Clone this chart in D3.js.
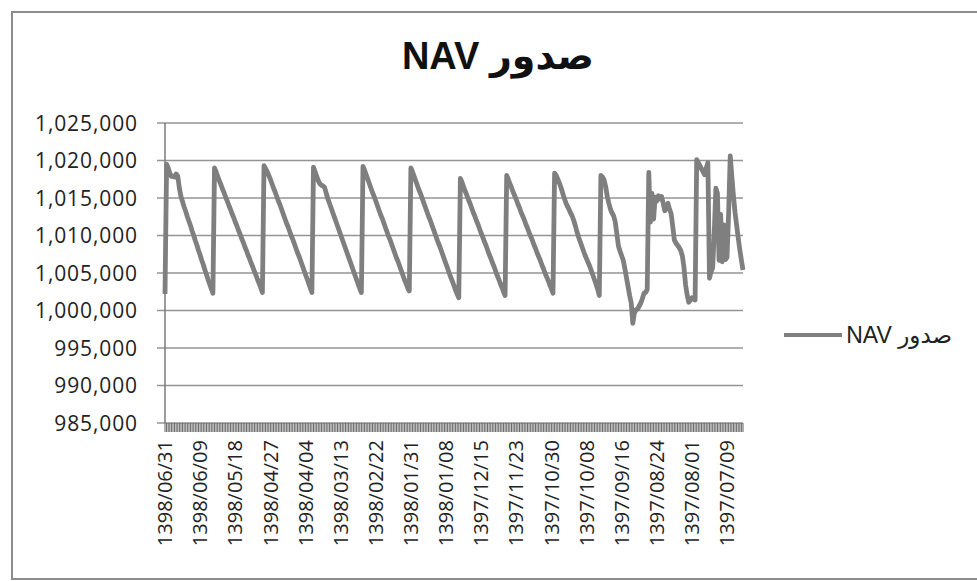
<!DOCTYPE html>
<html>
<head>
<meta charset="utf-8">
<script src="https://cdn.jsdelivr.net/npm/d3@7"></script>
<style>
  html, body { margin: 0; padding: 0; background: #fff; }
  svg { display: block; }
</style>
</head>
<body>
<div id="chart"></div>
<script>
// #region Data (latest day first as in the original)
const seriesName = 'صدور NAV';
const chartTitle = 'صدور NAV';

const navValues = [
  1002200, 1019500, 1019000, 1018300, 1017900, 1017900, 1017800, 1018200, 1017900, 1016300,
  1015200, 1014500, 1013800, 1013200, 1012500, 1011900, 1011300, 1010600, 1010000, 1009300,
  1008700, 1008000, 1007400, 1006700, 1006100, 1005400, 1004800, 1004100, 1003500, 1002900,
  1002300,
  1019000, 1018500, 1017900, 1017300, 1016800, 1016200, 1015700, 1015100, 1014600, 1014000,
  1013500, 1012900, 1012400, 1011800, 1011300, 1010700, 1010200, 1009600, 1009100, 1008500,
  1008000, 1007400, 1006900, 1006300, 1005800, 1005200, 1004700, 1004100, 1003600, 1003000,
  1002400,
  1019300, 1018900, 1018500, 1018000, 1017500, 1016900, 1016300, 1015800, 1015200, 1014600,
  1014100, 1013500, 1012900, 1012300, 1011700, 1011200, 1010600, 1010000, 1009500, 1008900,
  1008300, 1007700, 1007200, 1006600, 1006000, 1005400, 1004800, 1004200, 1003600, 1003000,
  1002400,
  1019100, 1018500, 1017900, 1017300, 1016900, 1016700, 1016600, 1016400, 1015600, 1014900,
  1014300, 1013700, 1013100, 1012500, 1011900, 1011300, 1010700, 1010100, 1009500, 1008900,
  1008300, 1007700, 1007100, 1006500, 1005900, 1005300, 1004700, 1004100, 1003500, 1002900,
  1002400,
  1019200, 1018700, 1018100, 1017500, 1016900, 1016300, 1015700, 1015200, 1014600, 1014000,
  1013400, 1012800, 1012300, 1011700, 1011100, 1010500, 1009900, 1009400, 1008800, 1008200,
  1007600, 1007000, 1006500, 1005900, 1005300, 1004700, 1004100, 1003600, 1003000, 1002600,
  1019000, 1018500, 1017900, 1017300, 1016700, 1016100, 1015600, 1015000, 1014400, 1013800,
  1013200, 1012600, 1012100, 1011500, 1010900, 1010300, 1009700, 1009100, 1008600, 1008000,
  1007400, 1006800, 1006200, 1005600, 1005000, 1004400, 1003900, 1003300, 1002700, 1002200,
  1001700,
  1017600, 1017100, 1016500, 1015900, 1015400, 1014800, 1014300, 1013700, 1013100, 1012600,
  1012000, 1011500, 1010900, 1010300, 1009800, 1009200, 1008700, 1008100, 1007500, 1007000,
  1006400, 1005900, 1005300, 1004700, 1004200, 1003600, 1003100, 1002500, 1002000,
  1018000, 1017500, 1016900, 1016400, 1015800, 1015300, 1014800, 1014200, 1013700, 1013100,
  1012600, 1012100, 1011500, 1011000, 1010400, 1009900, 1009400, 1008800, 1008300, 1007700,
  1007200, 1006700, 1006100, 1005600, 1005000, 1004500, 1004000, 1003400, 1002900, 1002300,
  1018300, 1018000, 1017500, 1017000, 1016400, 1015700, 1015000, 1014400, 1013900, 1013500,
  1013000, 1012600, 1012000, 1011300, 1010500, 1009800, 1009200, 1008600, 1008000, 1007400,
  1006900, 1006400, 1005900, 1005300, 1004700, 1004100, 1003500, 1002800, 1002000,
  1018000, 1017800, 1017400, 1016500, 1015200, 1014300, 1013500, 1013000, 1012600, 1011800,
  1010200, 1008600, 1007900, 1007300, 1006700, 1005600, 1004400, 1003200, 1002000, 1001000,
  998300, 999700, 1000100, 1000200, 1000600, 1001000, 1001600, 1002300, 1002400, 1002800,
  1018400, 1011800, 1015600, 1012200, 1015100, 1014600, 1015300, 1014900, 1015200, 1014300,
  1013300, 1013600, 1014300, 1013500, 1012900, 1011200, 1009400, 1009000, 1008700, 1008400,
  1008000, 1007300, 1005800, 1003500, 1002100, 1001100, 1001400, 1001700, 1001500, 1001400,
  1020100, 1019700, 1019300, 1018900, 1018500, 1018100, 1019000, 1019700, 1004300, 1005200,
  1005700, 1010400, 1016300, 1015600, 1006700, 1012800, 1006500, 1011400, 1006800, 1007100,
  1013000, 1020600, 1017900, 1015300, 1013100, 1011400, 1009700, 1008100, 1006700, 1005400,
];

// one label is shown for every 22nd day
const dateLabels = [
  '1398/06/31', '1398/06/09', '1398/05/18', '1398/04/27', '1398/04/04', '1398/03/13',
  '1398/02/22', '1398/01/31', '1398/01/08', '1397/12/15', '1397/11/23', '1397/10/30',
  '1397/10/08', '1397/09/16', '1397/08/24', '1397/08/01', '1397/07/09',
];
const labelEvery = 22;

const yTicks = [985000, 990000, 995000, 1000000, 1005000, 1010000, 1015000, 1020000, 1025000];
// #endregion

// #region SVG setup
const width = 977;
const height = 581;
const plot = { left: 165, right: 743, top: 123, bottom: 423 };
const textFont = '"Open Sans", "DejaVu Sans", sans-serif';
const titleFont = '"Liberation Sans", "DejaVu Sans", sans-serif';
const lineColor = '#7f7f7f';

const chart = d3
  .select('#chart')
  .append('svg')
  .attr('width', width)
  .attr('height', height);

chart
  .append('rect')
  .attr('x', 12)
  .attr('y', 12)
  .attr('width', 980)
  .attr('height', 567)
  .attr('fill', '#fff')
  .attr('stroke', '#8c8c8c')
  .attr('stroke-width', 2);
// #endregion

// #region Scales
const days = d3.range(navValues.length);
const x = d3.scalePoint().domain(days).range([plot.left, plot.right]);
const y = d3.scaleLinear().domain([985000, 1025000]).range([plot.bottom, plot.top]);
// #endregion

// #region Grid and axes
const grid = chart.append('g');
grid
  .selectAll('line')
  .data(yTicks)
  .enter()
  .append('line')
  .attr('x1', plot.left - 8)
  .attr('x2', plot.right)
  .attr('y1', d => y(d))
  .attr('y2', d => y(d))
  .attr('stroke', '#949494')
  .attr('stroke-width', 1.3);

grid
  .selectAll('text')
  .data(yTicks)
  .enter()
  .append('text')
  .text(d => d3.format(',')(d))
  .attr('x', plot.left - 27)
  .attr('y', d => y(d))
  .attr('dy', '0.36em')
  .attr('text-anchor', 'end')
  .style('font-family', textFont)
  .style('font-size', '21px')
  .style('letter-spacing', '0.9px')
  .style('fill', '#222');

chart
  .append('line')
  .attr('x1', plot.left)
  .attr('x2', plot.left)
  .attr('y1', plot.top)
  .attr('y2', plot.bottom)
  .attr('stroke', '#7a7a7a')
  .attr('stroke-width', 1.5);

// a tick for every day, which turns into a grey band
const dayTicks = chart.append('g');
dayTicks
  .selectAll('line')
  .data(days)
  .enter()
  .append('line')
  .attr('x1', d => x(d))
  .attr('x2', d => x(d))
  .attr('y1', plot.bottom)
  .attr('y2', plot.bottom + 9)
  .attr('stroke', '#6e6e6e')
  .attr('stroke-width', 1.1);

const labels = chart.append('g');
labels
  .selectAll('text')
  .data(dateLabels)
  .enter()
  .append('text')
  .text(d => d)
  .attr('text-anchor', 'end')
  .attr('dy', '0.36em')
  .attr('transform', (d, i) => `translate(${x(i * labelEvery)}, ${plot.bottom + 17}) rotate(-90)`)
  .style('font-family', textFont)
  .style('font-size', '20px')
  .style('fill', '#222');
// #endregion

// #region NAV line
const navLine = d3
  .line()
  .x((d, i) => x(i))
  .y(d => y(d));

chart
  .append('path')
  .datum(navValues)
  .attr('d', navLine)
  .attr('fill', 'none')
  .attr('stroke', lineColor)
  .attr('stroke-width', 4.8)
  .attr('stroke-linejoin', 'round');
// #endregion

// #region Title and legend
chart
  .append('text')
  .text(chartTitle)
  .attr('x', 498)
  .attr('y', 69)
  .attr('direction', 'rtl')
  .attr('text-anchor', 'middle')
  .style('font-family', titleFont)
  .style('font-weight', 'bold')
  .style('font-size', '38px')
  .style('fill', '#111');

const legend = chart.append('g').attr('transform', 'translate(784, 335)');
legend
  .append('line')
  .attr('x1', 0)
  .attr('x2', 58)
  .attr('stroke', lineColor)
  .attr('stroke-width', 4);
legend
  .append('text')
  .text(seriesName)
  .attr('x', 168)
  .attr('dy', '0.36em')
  .attr('direction', 'rtl')
  .attr('text-anchor', 'start')
  .style('font-family', titleFont)
  .style('font-size', '23px')
  .style('fill', '#222');
// #endregion
</script>
</body>
</html>
